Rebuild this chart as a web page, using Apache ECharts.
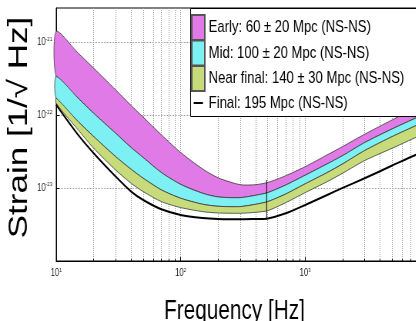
<!DOCTYPE html>
<html>
<head>
<meta charset="utf-8">
<script src="https://cdn.jsdelivr.net/npm/echarts@6/dist/echarts.min.js"></script>
<style>
  html, body { margin: 0; padding: 0; background: #fff; overflow: hidden; }
  /* the reference is squeezed sideways, so draw wider and scale down;
     the right part (legend edge, last decade) runs past the window */
  #chart { width: 580px; height: 321px; transform: scaleX(0.77); transform-origin: 0 0; }
</style>
</head>
<body>
<div id="chart"></div>
<script>
// frequency grid (Hz) shared by the bands
const freq = [10, 15, 20, 30, 40, 50, 70, 100, 150, 200, 300, 400, 500, 700, 1000, 1500, 2000, 3000, 5000, 8000, 10000];

// strain [1/sqrt(Hz)] band edges
const earlyHi = [1.43e-21, 7.19e-22, 4.47e-22, 2.25e-22, 1.37e-22, 9.47e-23, 5.41e-23, 3.09e-23, 1.84e-23, 1.39e-23, 1.12e-23, 1.12e-23, 1.20e-23, 1.49e-23, 1.98e-23, 2.87e-23, 3.74e-23, 5.52e-23, 8.70e-23, 1.30e-22, 1.55e-22];
const midHi = [3.43e-22, 1.73e-22, 1.07e-22, 5.70e-23, 3.62e-23, 2.64e-23, 1.64e-23, 1.13e-23, 8.53e-24, 7.59e-24, 7.43e-24, 8.00e-24, 8.71e-24, 1.11e-23, 1.51e-23, 2.16e-23, 2.81e-23, 4.24e-23, 6.54e-23, 9.47e-23, 1.13e-22];
const nearHi = [1.73e-22, 8.25e-23, 5.13e-23, 2.72e-23, 1.82e-23, 1.37e-23, 9.48e-24, 7.28e-24, 6.02e-24, 5.65e-24, 5.59e-24, 6.02e-24, 6.55e-24, 8.35e-24, 1.15e-23, 1.64e-23, 2.16e-23, 3.29e-23, 5.13e-23, 7.43e-23, 8.88e-23];
const nearLo = [1.47e-22, 6.34e-23, 3.55e-23, 1.78e-23, 1.17e-23, 8.99e-24, 6.55e-24, 5.42e-24, 4.77e-24, 4.57e-24, 4.53e-24, 4.67e-24, 4.92e-24, 6.35e-24, 8.71e-24, 1.23e-23, 1.61e-23, 2.40e-23, 3.55e-23, 5.13e-23, 6.14e-23];

// final design curve
const finalFreq = [10, 15, 20, 30, 40, 50, 70, 100, 150, 200, 300, 400, 490, 700, 1000, 1500, 2000, 3000, 5000, 8000, 10000];
const finalVals = [1.40e-22, 5.41e-23, 3.03e-23, 1.45e-23, 8.99e-24, 6.90e-24, 5.14e-24, 4.29e-24, 3.90e-24, 3.78e-24, 3.74e-24, 3.78e-24, 3.82e-24, 4.53e-24, 5.89e-24, 8.09e-24, 1.01e-23, 1.37e-23, 2.05e-23, 2.96e-23, 3.44e-23];
const stepFreq = 490;
const stepVals = [3.82e-24, 1.30e-23];

const names = ['Early: 60 \u00b1 20 Mpc (NS-NS)', 'Mid: 100 \u00b1 20 Mpc (NS-NS)', 'Near final: 140 \u00b1 30 Mpc (NS-NS)', 'Final: 195 Mpc (NS-NS)'];

const FONT = '"Liberation Sans", Arial, sans-serif';
const chart = echarts.init(document.getElementById('chart'));

function band(name, upper, lower, color) {
  return {
    name: name,
    type: 'custom',
    itemStyle: { color: color, borderColor: '#555', borderWidth: 0.5 },
    data: [[freq[0], upper[0]]],
    renderItem: function (params, api) {
      const pts = [];
      for (let i = 0; i < freq.length; i++) pts.push(api.coord([freq[i], upper[i]]));
      for (let i = freq.length - 1; i >= 0; i--) pts.push(api.coord([freq[i], lower[i]]));
      return {
        type: 'polygon',
        shape: { points: pts, smooth: 0.25 },
        style: { fill: color, stroke: '#3a3a3a', lineWidth: 0.8 }
      };
    }
  };
}

function powLabel(v) {
  const e = Math.round(Math.log10(v));
  return '{b|10}{s|' + e + '}';
}
const labelRich = {
  b: { fontFamily: FONT, fontSize: 10, color: '#222' },
  s: { fontFamily: FONT, fontSize: 6, color: '#222', padding: [0, 0, 7, 0] }
};
const gridLine = { show: true, lineStyle: { color: '#9c9c9c', type: 'dotted', width: 1 } };

const option = {
  animation: false,
  grid: {
    left: 73, top: 8, width: 485, height: 253, outerBoundsMode: 'none', containLabel: false,
    show: true, borderColor: '#000', borderWidth: 1, backgroundColor: '#fff'
  },
  // legend frame, runs off the right edge like the original
  graphic: [{
    type: 'rect', left: 247, top: 8, z: 8,
    shape: { width: 330, height: 108 },
    style: { fill: '#fff', stroke: '#000', lineWidth: 1 }
  }],
  legend: {
    orient: 'vertical', left: 247, top: 8, z: 10,
    itemWidth: 17, itemHeight: 25, itemGap: -1.5,
    padding: [6, 5, 3, 1],
    selectedMode: false,
    textStyle: { fontFamily: FONT, fontSize: 17, color: '#000' },
    data: [
      { name: names[0], icon: 'rect' },
      { name: names[1], icon: 'rect' },
      { name: names[2], icon: 'rect' },
      { name: names[3], icon: 'path://M0,0 M2.5,11.5 L14.5,11.5 L14.5,13.5 L2.5,13.5 Z M17,25' }
    ]
  },
  xAxis: {
    type: 'log', logBase: 10, min: 10, max: 10000,
    axisLine: { show: true, onZero: false, lineStyle: { color: '#000', width: 1 } },
    axisTick: { show: true, inside: true, length: 4, lineStyle: { color: '#000' } },
    minorTick: { show: true, splitNumber: 9, length: 2, lineStyle: { color: '#000' } },
    splitLine: gridLine,
    minorSplitLine: gridLine,
    axisLabel: { formatter: powLabel, rich: labelRich, margin: 6 },
    name: 'Frequency [Hz]', nameLocation: 'middle', nameGap: 37, nameMoveOverlap: false,
    nameTextStyle: { fontFamily: FONT, fontSize: 27, color: '#000', padding: [0, 22, 0, 0] }
  },
  yAxis: {
    type: 'log', logBase: 10, min: 1e-24, max: 3e-21,
    axisLine: { show: true, onZero: false, lineStyle: { color: '#000', width: 1 } },
    axisTick: { show: true, inside: true, length: 4, lineStyle: { color: '#000' } },
    minorTick: { show: true, splitNumber: 9, length: 2, lineStyle: { color: '#000' } },
    splitLine: gridLine,
    minorSplitLine: gridLine,
    axisLabel: { formatter: powLabel, rich: labelRich, margin: 5, showMaxLabel: false },
    name: 'Strain [1/\u221a Hz]', nameLocation: 'middle', nameGap: 30, nameMoveOverlap: false,
    nameTextStyle: { fontFamily: FONT, fontSize: 35, color: '#000', padding: [0, 0, 0, 14] }
  },
  series: [
    band(names[0], earlyHi, midHi, '#e07ae6'),
    band(names[1], midHi, nearHi, '#7cf0f2'),
    band(names[2], nearHi, nearLo, '#c8db7a'),
    {
      name: names[3], type: 'line', symbol: 'none', smooth: 0.3,
      lineStyle: { color: '#000', width: 2 }, itemStyle: { color: '#000' },
      data: finalFreq.map((f, i) => [f, finalVals[i]]),
      z: 5
    },
    {
      name: 'step', type: 'line', symbol: 'none',
      lineStyle: { color: '#000', width: 1 },
      data: stepVals.map(v => [stepFreq, v]),
      z: 5
    }
  ]
};

chart.setOption(option);
</script>
</body>
</html>
